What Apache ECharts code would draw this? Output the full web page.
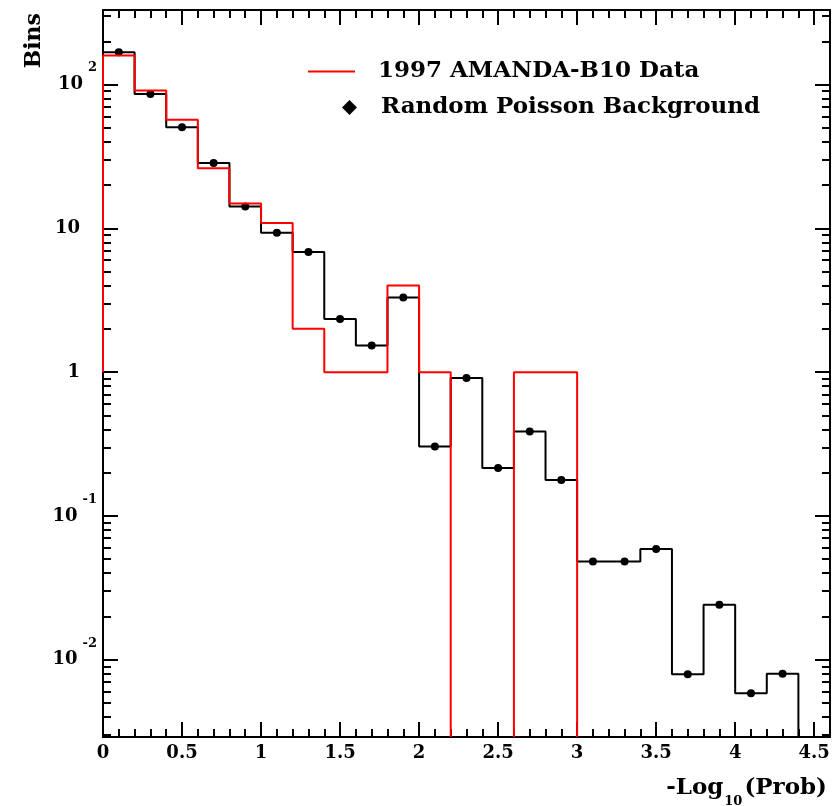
<!DOCTYPE html>
<html lang="en">
<head>
    <meta charset="UTF-8">
    <title>Bins vs -Log10(Prob)</title>
    <script src="https://cdn.jsdelivr.net/npm/echarts@6/dist/echarts.min.js"></script>
    <style>
        html, body { margin: 0; padding: 0; background: #fff; }
        #chart { width: 837px; height: 806px; }
    </style>
</head>
<body>
    <div id="chart"></div>
    <script>
        // histogram binning
        var binStart = 0;
        var binWidth = 0.2;
        // random poisson background, one value per bin from 0 to 4.4
        var bgCounts = [168, 86, 50.5, 28.5, 14.2, 9.3, 6.86, 2.34, 1.53, 3.31, 0.304,
            0.91, 0.215, 0.387, 0.178, 0.0482, 0.0482, 0.0588, 0.00792, 0.0241, 0.00585, 0.008];
        // 1997 AMANDA-B10 data, bins from 0 to 3.0 (empty afterwards)
        var dataCounts = [159, 91, 57, 26.2, 14.9, 10.9, 2, 1, 1, 4, 1, 0, 0, 1, 1];
        var dataStartLevel = 1;   // red outline starts at 1 on the left edge

        var xMajorTicks = [0, 0.5, 1, 1.5, 2, 2.5, 3, 3.5, 4, 4.5];
        var yDecadeTicks = [0.01, 0.1, 1, 10, 100];
        var xMin = 0, xMax = 4.6;
        var yMin = 0.0029, yMax = 330;

        var font = 'DejaVu Serif';

        // minor ticks: every 0.1 on x, 2..9 per decade on y
        var xMinorTicks = [];
        for (var k = 1; k < 46; k++) {
            if (k % 5 !== 0) xMinorTicks.push(Math.round(k) / 10);
        }
        var yMinorTicks = [];
        for (var e = -3; e <= 2; e++) {
            for (var m = 2; m <= 9; m++) {
                var t = m * Math.pow(10, e);
                if (t > yMin && t < yMax) yMinorTicks.push(t);
            }
        }

        // outline of a histogram, broken where bins are empty (log scale)
        function outline(counts, startLevel) {
            var pts = [[binStart, startLevel]];
            var prevEmpty = false;
            for (var i = 0; i < counts.length; i++) {
                var lo = binStart + i * binWidth;
                var hi = lo + binWidth;
                var v = counts[i];
                if (v > 0) {
                    if (prevEmpty) pts.push([lo, yMin]);
                    pts.push([lo, v], [hi, v]);
                    prevEmpty = false;
                } else {
                    if (!prevEmpty) { pts.push([lo, yMin]); pts.push('-'); }
                    prevEmpty = true;
                }
            }
            if (!prevEmpty) pts.push([binStart + counts.length * binWidth, yMin]);
            return pts;
        }

        var bgPoints = bgCounts.map(function (v, i) {
            return [binStart + (i + 0.5) * binWidth, v];
        });

        function xAxisOpt(position, ticks, len, main) {
            return {
                type: 'value', position: position, min: xMin, max: xMax,
                splitLine: { show: false },
                axisLine: { show: main, onZero: false, lineStyle: { color: '#000', width: 2 } },
                axisTick: { show: true, inside: true, length: len, customValues: ticks,
                    lineStyle: { color: '#000', width: 2 } },
                axisLabel: {
                    show: main && position === 'bottom',
                    customValues: xMajorTicks,
                    margin: 7,
                    color: '#000', fontFamily: font, fontWeight: 'bold', fontSize: 18
                }
            };
        }

        function yLabel(v) {
            var p = Math.round(Math.log10(v));
            if (p === 0) return '{b|1}{e| }';
            if (p === 1) return '{b|10}{e| }';
            return '{b|10}{s|' + p + '}';
        }

        function yAxisOpt(position, ticks, len, main) {
            return {
                type: 'log', logBase: 10, position: position, min: yMin, max: yMax,
                splitLine: { show: false },
                axisLine: { show: main, onZero: false, lineStyle: { color: '#000', width: 2 } },
                axisTick: { show: true, inside: true, length: len, customValues: ticks,
                    lineStyle: { color: '#000', width: 2 } },
                axisLabel: {
                    show: main && position === 'left',
                    customValues: yDecadeTicks,
                    margin: 6,
                    formatter: yLabel,
                    color: '#000',
                    rich: {
                        b: { fontFamily: font, fontWeight: 'bold', fontSize: 18, lineHeight: 46,
                            verticalAlign: 'middle', color: '#000' },
                        s: { fontFamily: font, fontWeight: 'bold', fontSize: 13, lineHeight: 14,
                            verticalAlign: 'top', padding: [0, 0, 0, 5], color: '#000' },
                        e: { width: 17, fontSize: 13 }
                    }
                }
            };
        }

        var xAxes = [
            xAxisOpt('bottom', xMajorTicks, 15, true),
            xAxisOpt('bottom', xMinorTicks, 8, false),
            xAxisOpt('top', xMajorTicks, 15, true),
            xAxisOpt('top', xMinorTicks, 8, false)
        ];
        xAxes[0].name = '{a|-Log}{u|10}{a|(Prob)}';
        xAxes[0].nameLocation = 'end';
        xAxes[0].nameGap = -3;
        xAxes[0].nameMoveOverlap = false;
        xAxes[0].nameTextStyle = {
            align: 'right', verticalAlign: 'top', padding: [31, 0, 0, 0],
            rich: {
                a: { fontFamily: font, fontWeight: 'bold', fontSize: 23, lineHeight: 40,
                    verticalAlign: 'middle', color: '#000' },
                u: { fontFamily: font, fontWeight: 'bold', fontSize: 13, lineHeight: 13,
                    verticalAlign: 'bottom', padding: [0, 2, 0, 1], color: '#000' }
            }
        };

        var yAxes = [
            yAxisOpt('left', yDecadeTicks, 15, true),
            yAxisOpt('left', yMinorTicks, 8, false),
            yAxisOpt('right', yDecadeTicks, 15, true),
            yAxisOpt('right', yMinorTicks, 8, false)
        ];
        yAxes[0].name = 'Bins';
        yAxes[0].nameLocation = 'end';
        yAxes[0].nameRotate = 90;
        yAxes[0].nameGap = -3;
        yAxes[0].nameMoveOverlap = false;
        yAxes[0].nameTextStyle = {
            fontFamily: font, fontWeight: 'bold', fontSize: 22, color: '#000',
            align: 'right', verticalAlign: 'bottom', padding: [0, 0, 58, 0]
        };

        var legendText = { fontFamily: font, fontWeight: 'bold', fontSize: 23, color: '#000' };

        var option = {
            animation: false,
            backgroundColor: '#fff',
            grid: { left: 103, top: 10, width: 727, height: 727, containLabel: false, outerBoundsMode: 'none' },
            xAxis: xAxes,
            yAxis: yAxes,
            legend: [{
                left: 308, top: 60, padding: 0, orient: 'vertical',
                itemWidth: 47, itemHeight: 2,
                data: [{ name: '1997 AMANDA-B10 Data', icon: 'rect' }],
                itemStyle: { color: '#ff0000', opacity: 1 },
                formatter: function (name) { return '{s| }{n|' + name + '}'; },
                textStyle: {
                    rich: { s: { width: 18 }, n: legendText }
                }
            }, {
                left: 342, top: 96, padding: 0, orient: 'vertical',
                itemWidth: 15, itemHeight: 15,
                data: [{ name: 'Random Poisson Background', icon: 'diamond' }],
                itemStyle: { color: '#000', opacity: 1 },
                formatter: function (name) { return '{s| }{n|' + name + '}'; },
                textStyle: {
                    rich: { s: { width: 19 }, n: legendText }
                }
            }],
            series: [{
                name: 'Random Poisson Background outline',
                type: 'line',
                data: outline(bgCounts, yMin),
                symbol: 'none',
                connectNulls: false,
                lineStyle: { color: '#000', width: 2 },
                z: 2
            }, {
                name: 'Random Poisson Background',
                type: 'scatter',
                data: bgPoints,
                symbol: 'circle',
                symbolSize: 8,
                itemStyle: { color: '#000', opacity: 1 },
                z: 3
            }, {
                name: '1997 AMANDA-B10 Data',
                type: 'line',
                data: outline(dataCounts, dataStartLevel),
                symbol: 'none',
                connectNulls: false,
                itemStyle: { color: '#ff0000' },
                lineStyle: { color: '#ff0000', width: 2 },
                z: 4
            }]
        };

        var chart = echarts.init(document.getElementById('chart'));
        chart.setOption(option);
    </script>
</body>
</html>
